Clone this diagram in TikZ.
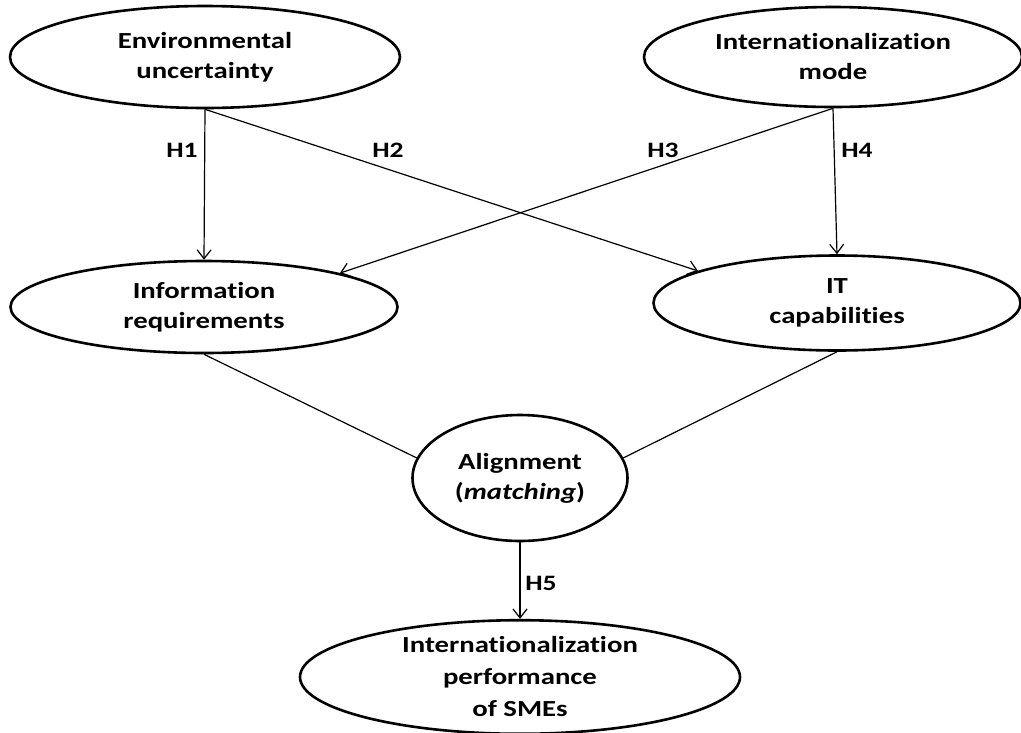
\documentclass[tikz,border=0pt]{standalone}
\usepackage{fontspec}
\setmainfont{Carlito}[FakeStretch=1.25,Ligatures={NoCommon}]
\usetikzlibrary{arrows.meta,shapes.geometric}
\begin{document}
\begin{tikzpicture}[x=1pt,y=-1pt,
  latent/.style={draw=black,line width=2.6pt,ellipse,inner sep=0pt,align=center,
    font=\fontsize{23}{30}\selectfont\bfseries},
  conn/.style={draw=black,line width=1.2pt},
  arr/.style={conn,-{Straight Barb[length=9pt,width=14pt,line width=1.2pt]}},
  hlab/.style={font=\fontsize{22}{26}\selectfont\bfseries}]
\useasboundingbox (0,0) rectangle (1021,732);
\node[latent,minimum width=390pt,minimum height=102pt] (env) at (205,57) {Environmental\\uncertainty};
\node[latent,minimum width=378pt,minimum height=100pt] (mode) at (833,57) {Internationalization\\mode};
\node[latent,minimum width=387pt,minimum height=92pt] (info) at (204,307) {Information\\requirements};
\node[latent,minimum width=367pt,minimum height=95pt] (it) at (837,303) {IT\\capabilities};
\node[latent,minimum width=215pt,minimum height=126pt] (align) at (520,478) {Alignment\\(\textit{matching})};
\node[latent,minimum width=440pt,minimum height=108pt] (perf) at (520,677) {Internationalization\\[2pt]performance\\[2pt]of SMEs};
\draw[arr] (env.south) -- (info.north);
\draw[arr] (env.south) -- (it.167);
\draw[arr] (mode.south) -- (info.14);
\draw[arr] (mode.south) -- (it.north);
\draw[conn] (info.south) -- (align.169);
\draw[conn] (it.south) -- (align.11);
\draw[arr] (align.south) -- (perf.north);
\node[hlab] (h1) at (182,150) {H1};
\node[hlab] (h2) at (388,150) {H2};
\node[hlab] (h3) at (663,150) {H3};
\node[hlab] (h4) at (857,150) {H4};
\node[hlab] (h5) at (541,583) {H5};
\end{tikzpicture}
\end{document}
